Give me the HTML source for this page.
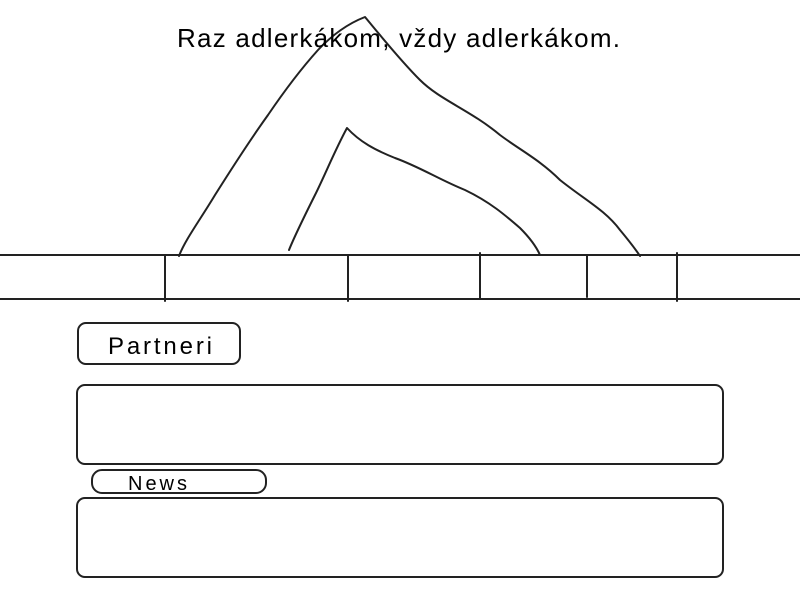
<!DOCTYPE html>
<html><head><meta charset="utf-8"><style>html,body{margin:0;padding:0;background:#fff;width:800px;height:600px;overflow:hidden}</style></head>
<body>
<svg width="800" height="600" xmlns="http://www.w3.org/2000/svg" style="display:block">
<g fill="none" stroke="#222" stroke-width="2" stroke-linejoin="round" stroke-linecap="round">
<path d="M179,256 C185,240 200,220 215,195 C232,168 250,140 268,115 C285,90 300,70 318,50 C335,32 352,22 365,17 C380,35 400,60 420,80 C440,100 470,110 500,135 C520,150 540,160 560,180 C585,200 605,210 620,230 C630,242 636,250 640,256"/>
<path d="M289,250 C295,235 305,215 315,195 C325,175 335,150 347,128 C360,142 375,150 395,158 C420,167 440,180 465,190 C490,202 505,215 520,228 C530,238 536,246 540,255"/>
<line x1="0" y1="255" x2="800" y2="255"/>
<line x1="0" y1="299" x2="800" y2="299"/>
<line x1="165" y1="255" x2="165" y2="301"/>
<line x1="348" y1="256" x2="348" y2="301"/>
<line x1="480" y1="253" x2="480" y2="299"/>
<line x1="587" y1="255" x2="587" y2="297"/>
<line x1="677" y1="253" x2="677" y2="301"/>
<rect x="78" y="323" width="162" height="41" rx="8"/>
<rect x="77" y="385" width="646" height="79" rx="8"/>
<rect x="92" y="470" width="174" height="23" rx="10"/>
<rect x="77" y="498" width="646" height="79" rx="8"/>
</g>
<g font-family="Liberation Sans, sans-serif" fill="#000">
<text x="177" y="47" font-size="26" textLength="443" lengthAdjust="spacing">Raz adlerkákom, vždy adlerkákom.</text>
<text x="108" y="354" font-size="24" textLength="104" lengthAdjust="spacing">Partneri</text>
<text x="128" y="490" font-size="20" textLength="59" lengthAdjust="spacing">News</text>
</g>
</svg>
</body></html>
